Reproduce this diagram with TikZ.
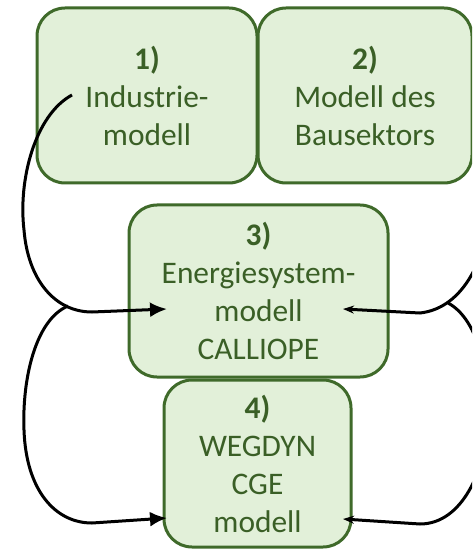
\documentclass[tikz,border=0pt]{standalone}
\usepackage{fontspec}
\setmainfont{Carlito}
\usepackage{tikz}
\usetikzlibrary{arrows.meta}
\definecolor{boxfill}{HTML}{E2F0D9}
\definecolor{boxline}{HTML}{3F6A2A}
\definecolor{boxtext}{HTML}{3A5F26}

\begin{document}
\begin{tikzpicture}[x=0.5pt, y=-0.5pt, line width=1.5pt,
  modell/.style={draw=boxline, fill=boxfill, text=boxtext, rounded corners=14pt, align=center, inner sep=0pt, font=\fontsize{15.7}{19}\selectfont},
  link/.style={black, -{Latex[length=8.5pt,width=7.5pt]}},
  linkr/.style={black, -{Stealth[length=5.5pt,width=4pt]}}] % 単位はピクセル、y軸は下向き
  \useasboundingbox (0,0) rectangle (472,549); % 画像の範囲
  \clip (0,0) rectangle (472,549); % 右端は切れている

  \node[modell, minimum width=110pt, minimum height=87.5pt] (ind) at (147,95.5) {\textbf{1)}\\Industrie-\\modell}; % 1) 産業モデル
  \node[modell, minimum width=107pt, minimum height=87.5pt] (bau) at (365,95.5) {\textbf{2)}\\Modell des\\Bausektors}; % 2) 建築部門
  \node[modell, minimum width=129.5pt, minimum height=86pt] (ene) at (258.5,291) {\textbf{3)}\\Energiesystem-\\modell\\CALLIOPE}; % 3) エネルギーシステム
  \node[modell, minimum width=93.5pt, minimum height=83.5pt] (cge) at (257.5,463.5) {\textbf{4)}\\WEGDYN\\CGE\\modell}; % 4) CGEモデル

  \coordinate (s1) at (72,95); % 矢印の始点（1)の中）
  \coordinate (jl) at (68,306); % 左の分岐点
  \coordinate (jr) at (448,303); % 右の分岐点
  \coordinate (e3l) at (167,309); % 3)への矢印先
  \coordinate (e4l) at (167,518); % 4)への矢印先
  \coordinate (e3r) at (343,309);
  \coordinate (e4r) at (343,519);

  \draw[link] (s1) .. controls (35,115) and (18,180) .. (24,230) .. controls (28,280) and (55,312) .. (92,312) -- (e3l); % 1) → 3)
  \draw[link] (jl) .. controls (35,320) and (22,380) .. (24,430) .. controls (26,490) and (55,523) .. (92,523) -- (e4l); % 左下 → 4)
  \draw[linkr] (492,200) .. controls (488,255) and (465,308) .. (420,313) -- (e3r); % 右上 → 3)
  \draw[linkr] (jr) .. controls (480,320) and (490,380) .. (488,420) .. controls (486,470) and (462,524) .. (420,524) -- (e4r); % 右下 → 4)
\end{tikzpicture}
\end{document}
